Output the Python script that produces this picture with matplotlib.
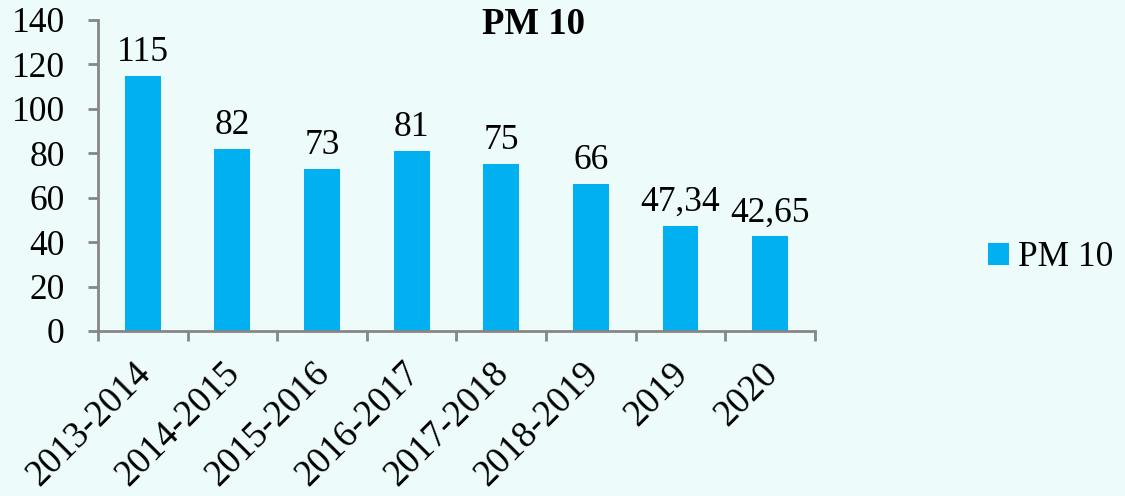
import numpy as np
import matplotlib.pyplot as plt
import matplotlib.transforms as mtransforms

# podaci
kategorije = ['2013-2014', '2014-2015', '2015-2016', '2016-2017', '2017-2018', '2018-2019', '2019', '2020']
pm10 = [115, 82, 73, 81, 75, 66, 47.34, 42.65]
oznake = ['115', '82', '73', '81', '75', '66', '47,34', '42,65']
y_ticks = [0, 20, 40, 60, 80, 100, 120, 140]

bg = '#EDFBFB'
boja = '#00B0F0'
siva = '#868686'
fs = 25.5

plt.rcParams['font.family'] = ['Liberation Serif', 'DejaVu Serif']

fig = plt.figure(figsize=(11.25, 4.96), dpi=100, facecolor=bg)
ax = fig.add_axes([0.0871, 0.3327, 0.6373, 0.627])
ax.set_facecolor(bg)

x = np.arange(len(kategorije))
bars = ax.bar(x, pm10, width=0.4, color=boja, label='PM 10', zorder=2)

for xi, v, t in zip(x, pm10, oznake):
    ax.annotate(t, (xi, v), xytext=(0, 5), textcoords='offset points',
                ha='center', va='bottom', fontsize=fs)

ax.set_xlim(-0.5, len(kategorije) - 0.5)
ax.set_ylim(0, 140)
ax.set_yticks(y_ticks)
ax.tick_params(axis='y', labelsize=fs, color=siva, length=7, width=2, pad=17)

ax.set_xticks(np.arange(len(kategorije) + 1) - 0.5)
ax.set_xticklabels([])
ax.tick_params(axis='x', color=siva, length=7, width=2)
ax.set_xticks(x, minor=True)
ax.set_xticklabels(kategorije, minor=True, rotation=45, ha='right',
                   rotation_mode='anchor', fontsize=26.5)
ax.tick_params(axis='x', which='minor', length=0, pad=18)
pomak = mtransforms.ScaledTranslation(-7 / 72, 0, fig.dpi_scale_trans)
for lbl in ax.get_xticklabels(minor=True):
    lbl.set_transform(lbl.get_transform() + pomak)

for s in ['top', 'right']:
    ax.spines[s].set_visible(False)
for s in ['left', 'bottom']:
    ax.spines[s].set_color(siva)
    ax.spines[s].set_linewidth(2)

fig.text(0.474, 0.95, 'PM 10', fontsize=fs + 1, fontweight='bold', ha='center', va='center')

fig.legend(handles=[bars], labels=['PM 10'], loc='center left',
           bbox_to_anchor=(0.85, 0.48), frameon=False, fontsize=fs,
           handlelength=0.6, handleheight=0.6, handletextpad=0.25)

fig.savefig('out.png', dpi=100, facecolor=bg)
